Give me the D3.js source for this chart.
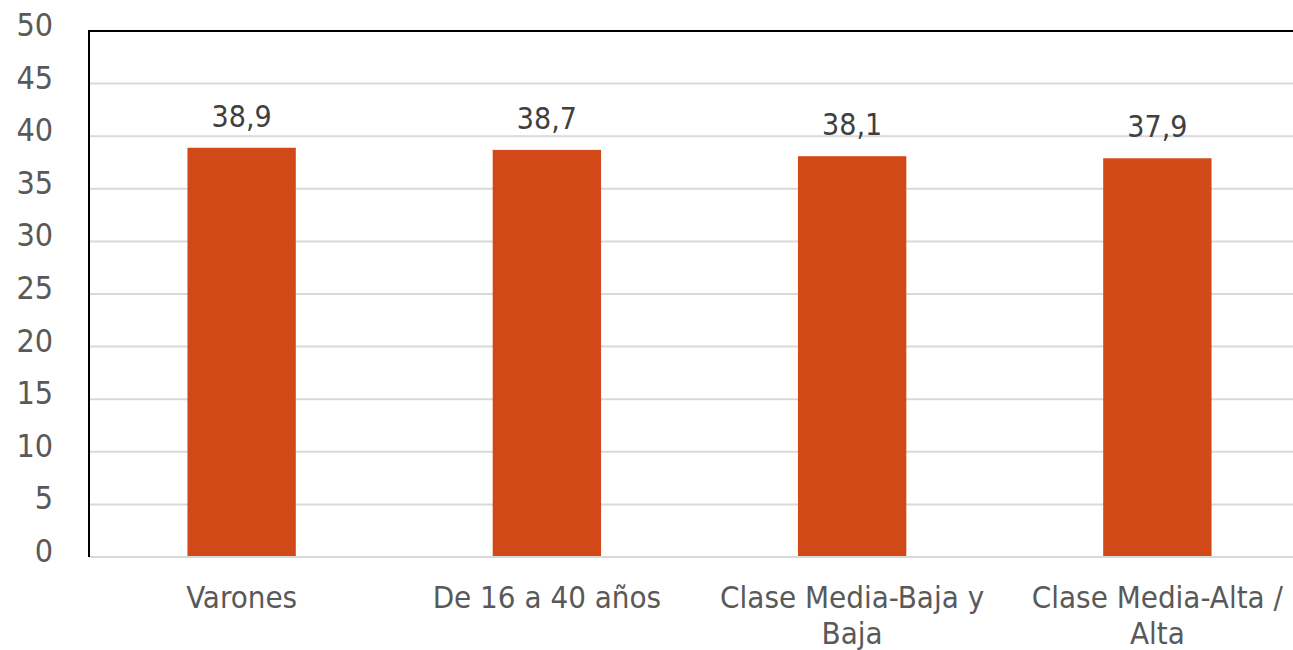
<!DOCTYPE html>
<html>
<head>
<meta charset="utf-8">
<script src="https://cdn.jsdelivr.net/npm/d3@7"></script>
<style>
  body { margin: 0; background: #fff; }
  text { font-family: "DejaVu Sans Condensed", "DejaVu Sans", sans-serif; }
</style>
</head>
<body>
<script>
// chart data
var categories = [["Varones"], ["De 16 a 40 años"], ["Clase Media-Baja y", "Baja"], ["Clase Media-Alta /", "Alta"]];
var values = [38.9, 38.7, 38.1, 37.9];
var valueLabels = ["38,9", "38,7", "38,1", "37,9"];
var yTicks = [0, 5, 10, 15, 20, 25, 30, 35, 40, 45, 50];

var width = 1293, height = 650;
var plotLeft = 89, plotTop = 31, plotBottom = 557, plotRight = 1310;

var svg = d3.select("body").append("svg")
    .attr("width", width)
    .attr("height", height);

var y = d3.scaleLinear()
    .domain([0, 50])
    .range([plotBottom, plotTop]);

var x = d3.scaleBand()
    .domain(d3.range(categories.length))
    .range([plotLeft, plotRight])
    .paddingInner(0.645)
    .paddingOuter(0.3225);

// gridlines
svg.append("g")
  .selectAll("line")
  .data(yTicks.filter(d => d > 0 && d < 50))
  .enter().append("line")
  .attr("x1", plotLeft)
  .attr("x2", width)
  .attr("y1", d => y(d))
  .attr("y2", d => y(d))
  .style("stroke", "#d9d9d9")
  .style("stroke-width", 2);

// bars
svg.append("g")
  .selectAll("rect")
  .data(values)
  .enter().append("rect")
  .attr("x", (d, i) => x(i))
  .attr("y", d => y(d))
  .attr("width", x.bandwidth())
  .attr("height", d => y(0) - y(d))
  .style("fill", "#d24918");

// baseline
svg.append("line")
  .attr("x1", plotLeft).attr("x2", width)
  .attr("y1", y(0)).attr("y2", y(0))
  .style("stroke", "#d9d9d9")
  .style("stroke-width", 2);

// frame top + left
svg.append("line")
  .attr("x1", plotLeft).attr("x2", width)
  .attr("y1", y(50)).attr("y2", y(50))
  .style("stroke", "#000")
  .style("stroke-width", 2);
svg.append("line")
  .attr("x1", plotLeft).attr("x2", plotLeft)
  .attr("y1", y(50) - 1).attr("y2", y(0))
  .style("stroke", "#000")
  .style("stroke-width", 2);

// y tick labels
svg.append("g")
  .selectAll("text")
  .data(yTicks)
  .enter().append("text")
  .attr("x", 53)
  .attr("y", d => y(d) + 5)
  .attr("text-anchor", "end")
  .style("font-size", "32px")
  .style("fill", "#595959")
  .text(d => d);

// value labels
svg.append("g")
  .selectAll("text")
  .data(values)
  .enter().append("text")
  .attr("x", (d, i) => x(i) + x.bandwidth() / 2)
  .attr("y", d => y(d) - 21)
  .attr("text-anchor", "middle")
  .style("font-size", "30px")
  .style("fill", "#404040")
  .text((d, i) => valueLabels[i]);

// category labels
var cat = svg.append("g")
  .selectAll("text")
  .data(categories)
  .enter().append("text")
  .attr("x", (d, i) => x(i) + x.bandwidth() / 2)
  .attr("y", 608)
  .attr("text-anchor", "middle")
  .style("font-size", "31px")
  .style("fill", "#595959");

cat.selectAll("tspan")
  .data(d => d)
  .enter().append("tspan")
  .attr("x", function() { return this.parentNode.getAttribute("x"); })
  .attr("dy", (d, i) => i === 0 ? 0 : 36)
  .text(d => d);
</script>
</body>
</html>
